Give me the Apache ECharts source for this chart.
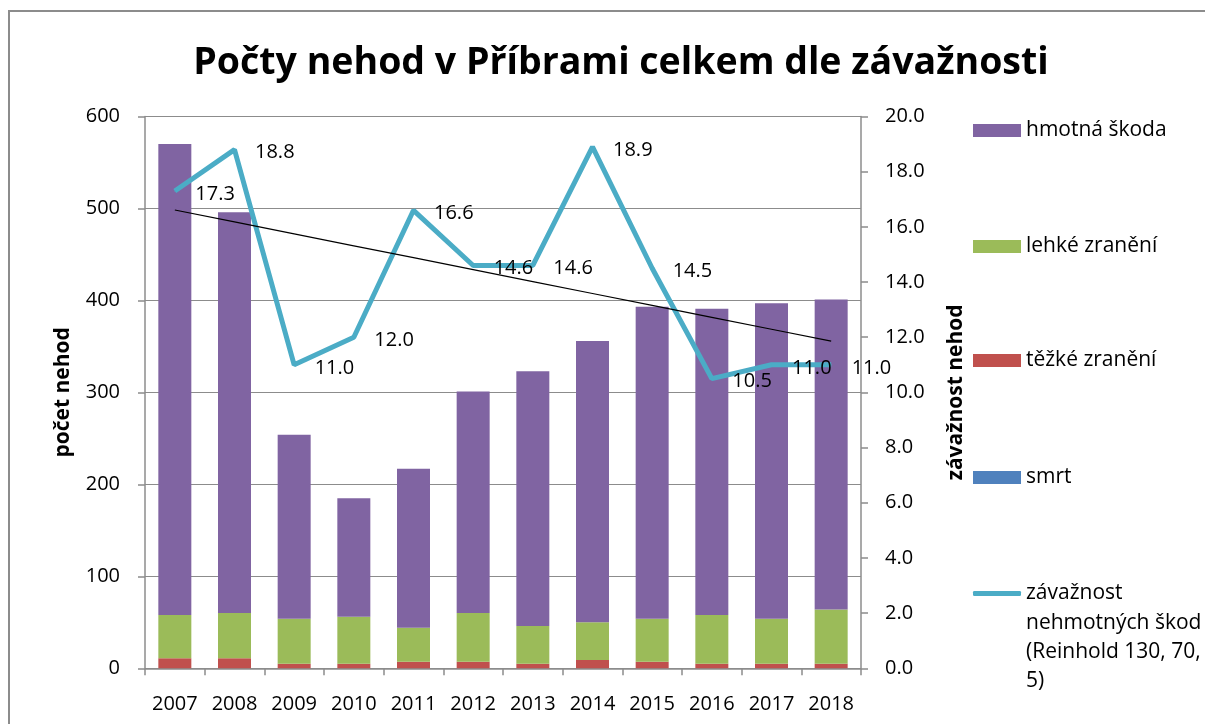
<!DOCTYPE html>
<html>
<head>
<meta charset="utf-8">
<title>Počty nehod v Příbrami</title>
<script src="https://cdn.jsdelivr.net/npm/echarts@6/dist/echarts.min.js"></script>
<style>
  html, body { margin: 0; padding: 0; background: #fff; }
  #graf { width: 1205px; height: 724px; }
</style>
</head>
<body>
<div id="graf"></div>
<script>
// data
var roky = ['2007', '2008', '2009', '2010', '2011', '2012', '2013', '2014', '2015', '2016', '2017', '2018'];
var smrt = [0, 0, 0, 0, 0, 0, 0, 0, 0, 0, 0, 0];
var tezke = [11, 11, 5, 5, 7, 7, 5, 9, 7, 5, 5, 5];
var lehke = [47, 49, 49, 51, 37, 53, 41, 41, 47, 53, 49, 59];
var hmotna = [512, 436, 200, 129, 173, 241, 277, 306, 339, 333, 343, 337];
var zavaznost = [17.3, 18.8, 11.0, 12.0, 16.6, 14.6, 14.6, 18.9, 14.5, 10.5, 11.0, 11.0];
var levaOsa = [0, 100, 200, 300, 400, 500, 600];
var pravaOsa = [0, 2, 4, 6, 8, 10, 12, 14, 16, 18, 20];

var nazevCary = 'závažnost nehmotných škod (Reinhold 130, 70, 5)';

// lineární spojnice trendu (jako v Excelu)
function trend(hodnoty) {
  var n = hodnoty.length, sx = 0, sy = 0, sxy = 0, sxx = 0;
  for (var i = 0; i < n; i++) {
    sx += i; sy += hodnoty[i]; sxy += i * hodnoty[i]; sxx += i * i;
  }
  var k = (n * sxy - sx * sy) / (n * sxx - sx * sx);
  var q = (sy - k * sx) / n;
  var res = [];
  for (var j = 0; j < n; j++) res.push(+(q + k * j).toFixed(3));
  return res;
}

var pismo = 'Open Sans';
var seda = '#8c8c8c';

var chart = echarts.init(document.getElementById('graf'));

function polozkaLegendy(nazev, top, ikona) {
  return {
    data: [nazev],
    left: 973,
    top: top,
    orient: 'vertical',
    icon: ikona || 'rect',
    itemWidth: 48,
    itemHeight: 13,
    selectedMode: false,
    padding: 0,
    textStyle: { fontFamily: pismo, fontSize: 21, color: '#000' }
  };
}

var legenda = [
  polozkaLegendy('hmotná škoda', 120),
  polozkaLegendy('lehké zranění', 236),
  polozkaLegendy('těžké zranění', 350),
  polozkaLegendy('smrt', 467)
];
var posledni = polozkaLegendy(nazevCary, 583, 'roundRect');
posledni.itemHeight = 5;
posledni.formatter = function () { return 'závažnost'; };
legenda.push(posledni);

var option = {
  animation: false,
  backgroundColor: '#fff',
  title: {
    text: 'Počty nehod v Příbrami celkem dle závažnosti',
    left: 616,
    top: 39,
    textAlign: 'center',
    textStyle: { fontFamily: pismo, fontSize: 37.5, fontWeight: 'bold', color: '#000' }
  },
  legend: legenda,
  graphic: [
    {
      type: 'rect', silent: true,
      shape: { x: 9, y: 11, width: 1400, height: 1000 },
      style: { fill: 'none', stroke: seda, lineWidth: 2 }
    },
    { type: 'text', left: 1026, top: 613, style: { text: 'nehmotných škod', font: '21px "Open Sans"', fill: '#000' } },
    { type: 'text', left: 1026, top: 642, style: { text: '(Reinhold 130, 70,', font: '21px "Open Sans"', fill: '#000' } },
    { type: 'text', left: 1026, top: 671, style: { text: '5)', font: '21px "Open Sans"', fill: '#000' } }
  ],
  grid: { left: 145, right: 344, top: 116.5, bottom: 55.7 },
  xAxis: {
    type: 'category',
    data: roky,
    axisLine: { lineStyle: { color: seda, width: 1.5 } },
    axisTick: { show: true, length: 7, lineStyle: { color: seda, width: 1.5 } },
    axisLabel: { margin: 26, fontFamily: pismo, fontSize: 20, color: '#000' }
  },
  yAxis: [
    {
      type: 'value', min: levaOsa[0], max: levaOsa[levaOsa.length - 1], interval: 100,
      name: 'počet nehod', nameLocation: 'middle', nameGap: 71, nameRotate: 90,
      nameTextStyle: { fontFamily: pismo, fontSize: 21, fontWeight: 'bold', color: '#000' },
      axisLine: { show: true, lineStyle: { color: seda, width: 1.5 } },
      axisTick: { show: true, length: 7, lineStyle: { color: seda, width: 1.5 } },
      axisLabel: { margin: 25, fontFamily: pismo, fontSize: 20, color: '#000' },
      splitLine: { show: true, lineStyle: { color: seda, width: 1.2 } }
    },
    {
      type: 'value', min: pravaOsa[0], max: pravaOsa[pravaOsa.length - 1], interval: 2,
      position: 'right',
      name: 'závažnost nehod', nameLocation: 'middle', nameGap: 85, nameRotate: 90,
      nameTextStyle: { fontFamily: pismo, fontSize: 21, fontWeight: 'bold', color: '#000' },
      axisLine: { show: true, lineStyle: { color: seda, width: 1.5 } },
      axisTick: { show: true, length: 7, lineStyle: { color: seda, width: 1.5 } },
      axisLabel: {
        margin: 24, fontFamily: pismo, fontSize: 20, color: '#000',
        formatter: function (v) { return v.toFixed(1); }
      },
      splitLine: { show: false }
    }
  ],
  series: [
    { name: 'smrt', type: 'bar', stack: 'nehody', barWidth: 33, data: smrt, itemStyle: { color: '#4F81BD' } },
    { name: 'těžké zranění', type: 'bar', stack: 'nehody', barWidth: 33, data: tezke, itemStyle: { color: '#C0504D' } },
    { name: 'lehké zranění', type: 'bar', stack: 'nehody', barWidth: 33, data: lehke, itemStyle: { color: '#9BBB59' } },
    { name: 'hmotná škoda', type: 'bar', stack: 'nehody', barWidth: 33, data: hmotna, itemStyle: { color: '#8064A2' } },
    {
      name: nazevCary, type: 'line', yAxisIndex: 1, data: zavaznost, z: 5,
      symbol: 'circle', symbolSize: 1, showSymbol: true,
      itemStyle: { color: '#4BACC6' },
      lineStyle: { color: '#4BACC6', width: 5 },
      label: {
        show: true, position: 'right', distance: 20, offset: [0, 3],
        fontFamily: pismo, fontSize: 20, color: '#000',
        formatter: function (p) { return p.value.toFixed(1); }
      }
    },
    {
      name: 'trend', type: 'line', yAxisIndex: 1, data: trend(zavaznost), z: 6,
      symbol: 'none', silent: true,
      lineStyle: { color: '#000', width: 1.2 }
    }
  ]
};

chart.setOption(option);
</script>
</body>
</html>
